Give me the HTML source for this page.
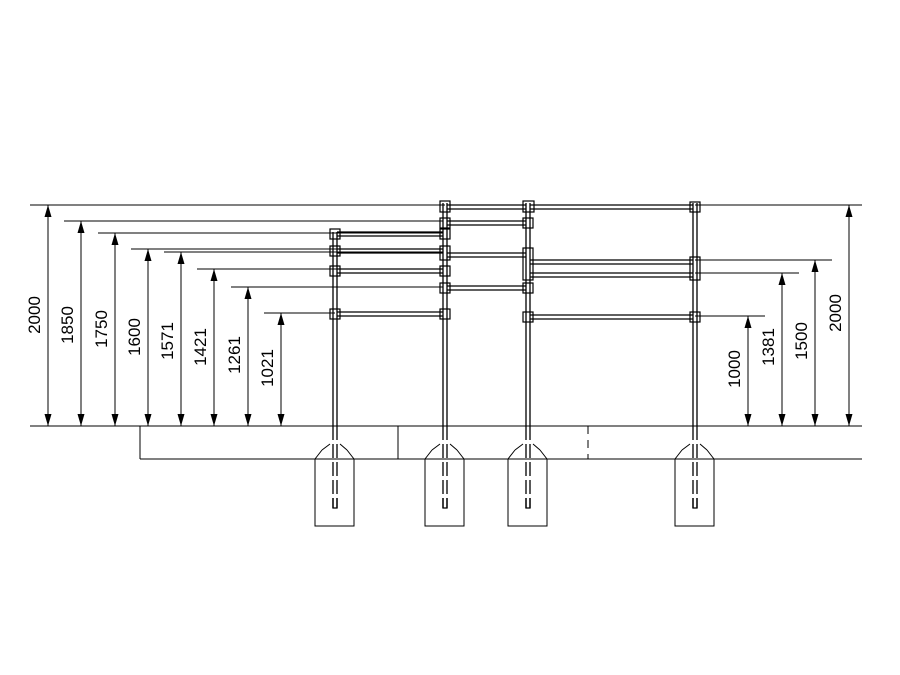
<!DOCTYPE html>
<html><head><style>body{margin:0;background:#fff}svg{display:block}</style></head><body>
<svg width="900" height="675" viewBox="0 0 900 675" xmlns="http://www.w3.org/2000/svg" font-family="Liberation Sans, sans-serif" font-size="17">
<defs>
<marker id="a" viewBox="0 0 12 8" refX="12" refY="4" markerWidth="12" markerHeight="8" markerUnits="userSpaceOnUse" orient="auto-start-reverse"><path d="M0,0.5L12,4L0,7.5z" fill="#000"/></marker>
</defs>
<g stroke="#000" stroke-width="1" fill="none">
<line x1="30" y1="426" x2="862" y2="426"/>
<line x1="140" y1="459" x2="862" y2="459"/>
<line x1="140" y1="426" x2="140" y2="459"/>
<line x1="398" y1="426" x2="398" y2="459"/>
<line x1="588" y1="426" x2="588" y2="459" stroke-dasharray="8,6"/>
<g id="f"><path d="M315,459V526H354V459L347,450M322,450L315,459M322,450L330,444M347,450L340,444"/></g>
<use href="#f" x="110"/><use href="#f" x="193"/><use href="#f" x="360"/>
<line x1="30" y1="205" x2="445" y2="205"/>
<line x1="64" y1="221" x2="443" y2="221"/>
<line x1="98" y1="233" x2="443" y2="233"/>
<line x1="131" y1="249" x2="443" y2="249"/>
<line x1="164" y1="252" x2="443" y2="252"/>
<line x1="197" y1="269" x2="443" y2="269"/>
<line x1="231" y1="287" x2="443" y2="287"/>
<line x1="264" y1="313" x2="335" y2="313"/>
<line x1="695" y1="205" x2="862" y2="205"/>
<line x1="695" y1="260" x2="832" y2="260"/>
<line x1="695" y1="273" x2="799" y2="273"/>
<line x1="695" y1="316" x2="765" y2="316"/>
<g marker-start="url(#a)" marker-end="url(#a)">
<line x1="48" y1="205" x2="48" y2="426"/>
<line x1="81" y1="221" x2="81" y2="426"/>
<line x1="115" y1="233" x2="115" y2="426"/>
<line x1="148" y1="249" x2="148" y2="426"/>
<line x1="181" y1="252" x2="181" y2="426"/>
<line x1="214" y1="269" x2="214" y2="426"/>
<line x1="248" y1="287" x2="248" y2="426"/>
<line x1="281" y1="313" x2="281" y2="426"/>
<line x1="748" y1="316" x2="748" y2="426"/>
<line x1="782" y1="273" x2="782" y2="426"/>
<line x1="815" y1="260" x2="815" y2="426"/>
<line x1="849" y1="205" x2="849" y2="426"/>
</g>
<g stroke-width="1.3">
<path d="M333,232V426M337,232V426"/>
<path d="M443,203V426M447,203V426"/>
<path d="M526,203V426M530,203V426"/>
<path d="M693,203V426M697,203V426"/>
</g>
<g stroke-width="1.3" stroke-dasharray="14,4">
<path d="M333,426V508M337,426V508"/>
<path d="M443,426V508M447,426V508"/>
<path d="M526,426V508M530,426V508"/>
<path d="M693,426V508M697,426V508"/>
</g>
<g stroke-width="1.3">
<path d="M333,498V508H337V498M443,498V508H447V498M526,498V508H530V498M693,498V508H697V498"/>
<path d="M337,232H443M337,236H443"/>
<path d="M337,249H443M337,253H443"/>
<path d="M337,269H443M337,273H443"/>
<path d="M337,312H443M337,316H443"/>
<path d="M447,205H526M447,209H526"/>
<path d="M447,221H526M447,225H526"/>
<path d="M447,253H526M447,257H526"/>
<path d="M447,286H526M447,290H526"/>
<path d="M530,205H693M530,209H693"/>
<path d="M530,260H693M530,264H693"/>
<path d="M530,273H693M530,277H693"/>
<path d="M530,315H693M530,319H693"/>
</g>
<g stroke-width="1.2">
<rect x="330" y="229" width="10" height="10"/><rect x="330" y="246" width="10" height="10"/><rect x="330" y="266" width="10" height="10"/><rect x="330" y="309" width="10" height="10"/>
<rect x="440" y="201" width="10" height="11"/><rect x="440" y="218" width="10" height="10"/><rect x="440" y="229" width="10" height="10"/><rect x="440" y="246" width="10" height="14"/><rect x="440" y="266" width="10" height="10"/><rect x="440" y="283" width="10" height="10"/><rect x="440" y="309" width="10" height="10"/>
<rect x="523" y="201" width="11" height="11"/><rect x="523" y="218" width="10" height="10"/><rect x="523" y="248" width="10" height="32"/><rect x="523" y="283" width="10" height="10"/><rect x="523" y="312" width="10" height="10"/>
<rect x="690" y="202" width="10" height="10"/><rect x="690" y="257" width="10" height="23"/><rect x="690" y="312" width="10" height="10"/>
</g>
</g>
<g fill="#000">
<text transform="translate(40,315) rotate(-90)" text-anchor="middle">2000</text>
<text transform="translate(73,325) rotate(-90)" text-anchor="middle">1850</text>
<text transform="translate(107,329) rotate(-90)" text-anchor="middle">1750</text>
<text transform="translate(140,337) rotate(-90)" text-anchor="middle">1600</text>
<text transform="translate(173,341) rotate(-90)" text-anchor="middle">1571</text>
<text transform="translate(206,347) rotate(-90)" text-anchor="middle">1421</text>
<text transform="translate(240,355) rotate(-90)" text-anchor="middle">1261</text>
<text transform="translate(273,368) rotate(-90)" text-anchor="middle">1021</text>
<text transform="translate(740,369) rotate(-90)" text-anchor="middle">1000</text>
<text transform="translate(774,347) rotate(-90)" text-anchor="middle">1381</text>
<text transform="translate(807,341) rotate(-90)" text-anchor="middle">1500</text>
<text transform="translate(841,313) rotate(-90)" text-anchor="middle">2000</text>
</g>
</svg>
</body></html>
